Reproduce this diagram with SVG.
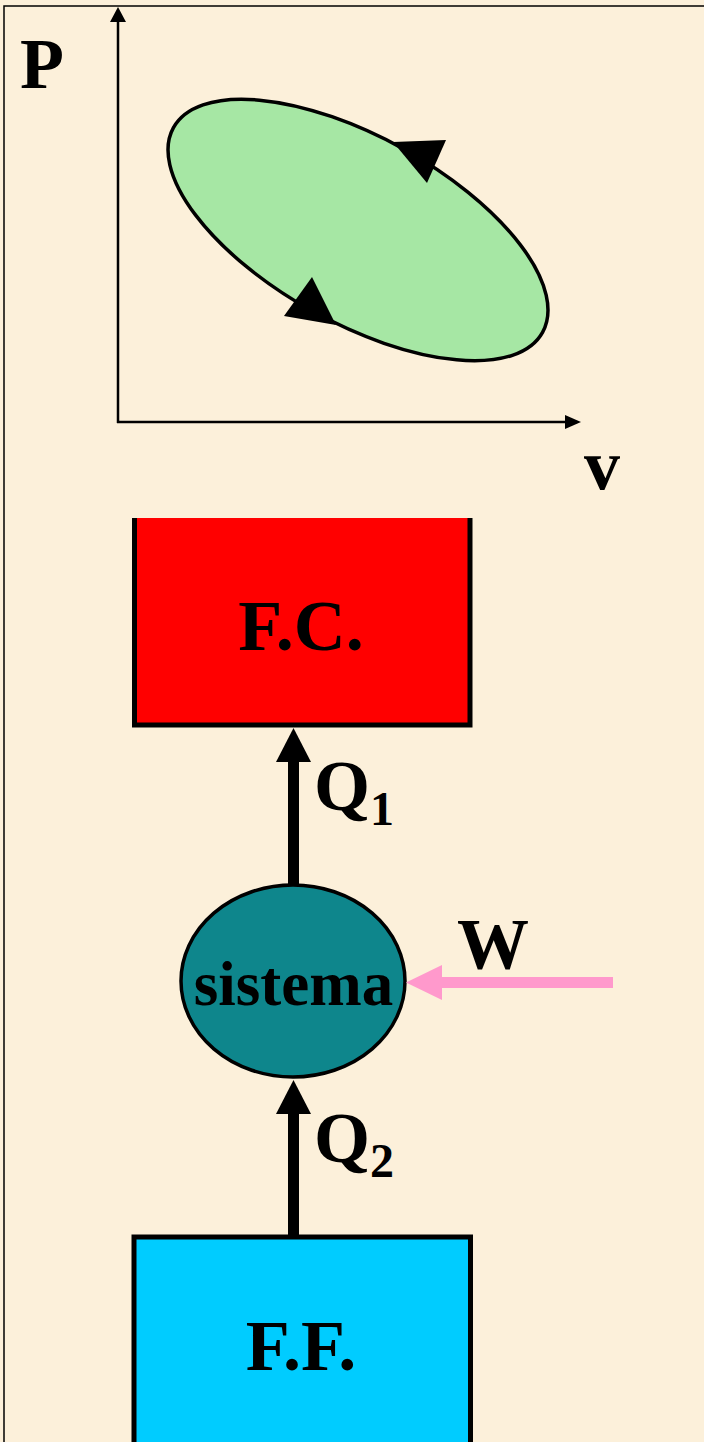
<svg xmlns="http://www.w3.org/2000/svg" width="704" height="1442" viewBox="0 0 704 1442">
<style>
.t{font-family:"Liberation Serif","Times New Roman",serif;font-weight:bold;fill:#000}
.ax{stroke:#000;stroke-width:2.5;fill:none}
.bx{stroke:#000;stroke-width:5;fill:none;stroke-linejoin:miter}
</style>
<rect x="0" y="0" width="704" height="1442" fill="#FCF0DA"/>
<path d="M4,1442 V6 H704" fill="none" stroke="#000" stroke-width="1.5"/>
<g id="pv-diagram">
  <line class="ax" x1="118" y1="423" x2="118" y2="20"/>
  <polygon points="118,7 110,22 126,22" fill="#000"/>
  <line class="ax" x1="117" y1="422" x2="567" y2="422"/>
  <polygon points="581,422 565,415 565,429" fill="#000"/>
  <text class="t" x="20" y="88" font-size="72">P</text>
  <text class="t" x="584" y="489" font-size="72">v</text>
  <ellipse cx="358" cy="230" rx="211" ry="93" transform="rotate(29 358 230)" fill="#A6E7A4" stroke="#000" stroke-width="3.5"/>
  <polygon points="393,142 446,140 427,183" fill="#000"/>
  <polygon points="312,277 284,316 336,325" fill="#000"/>
</g>
<g id="fc">
  <rect x="134" y="518" width="336" height="207" fill="#FF0000"/>
  <path class="bx" d="M134.5,518 V725 H470 V518"/>
  <text class="t" x="301" y="650" font-size="72" text-anchor="middle">F.C.</text>
</g>
<g id="sistema">
  <ellipse cx="293" cy="981" rx="112" ry="96" fill="#0E868C" stroke="#000" stroke-width="3.5"/>
  <text class="t" x="293.5" y="1005" font-size="63" text-anchor="middle">sistema</text>
</g>
<g id="ff">
  <rect x="134" y="1235" width="336" height="210" fill="#00CCFF"/>
  <path class="bx" d="M134,1445 V1237 H470.5 V1445"/>
  <text class="t" x="301" y="1370" font-size="72" text-anchor="middle">F.F.</text>
</g>
<g id="connectors">
  <rect x="288" y="760" width="11" height="125" fill="#000"/>
  <polygon points="293.5,728 276,762 311,762" fill="#000"/>
  <rect x="288" y="1112" width="11" height="123" fill="#000"/>
  <polygon points="293.5,1080 276,1114 311,1114" fill="#000"/>
  <rect x="440" y="977" width="173" height="11" fill="#FF99CC"/>
  <polygon points="406,982.5 442,965 442,1000" fill="#FF99CC"/>
</g>
<g id="labels">
  <text class="t" x="314" y="810" font-size="72">Q<tspan font-size="48" dy="15">1</tspan></text>
  <text class="t" x="314" y="1162" font-size="72">Q<tspan font-size="48" dy="15">2</tspan></text>
  <text class="t" x="457" y="968" font-size="72">W</text>
</g>
</svg>
